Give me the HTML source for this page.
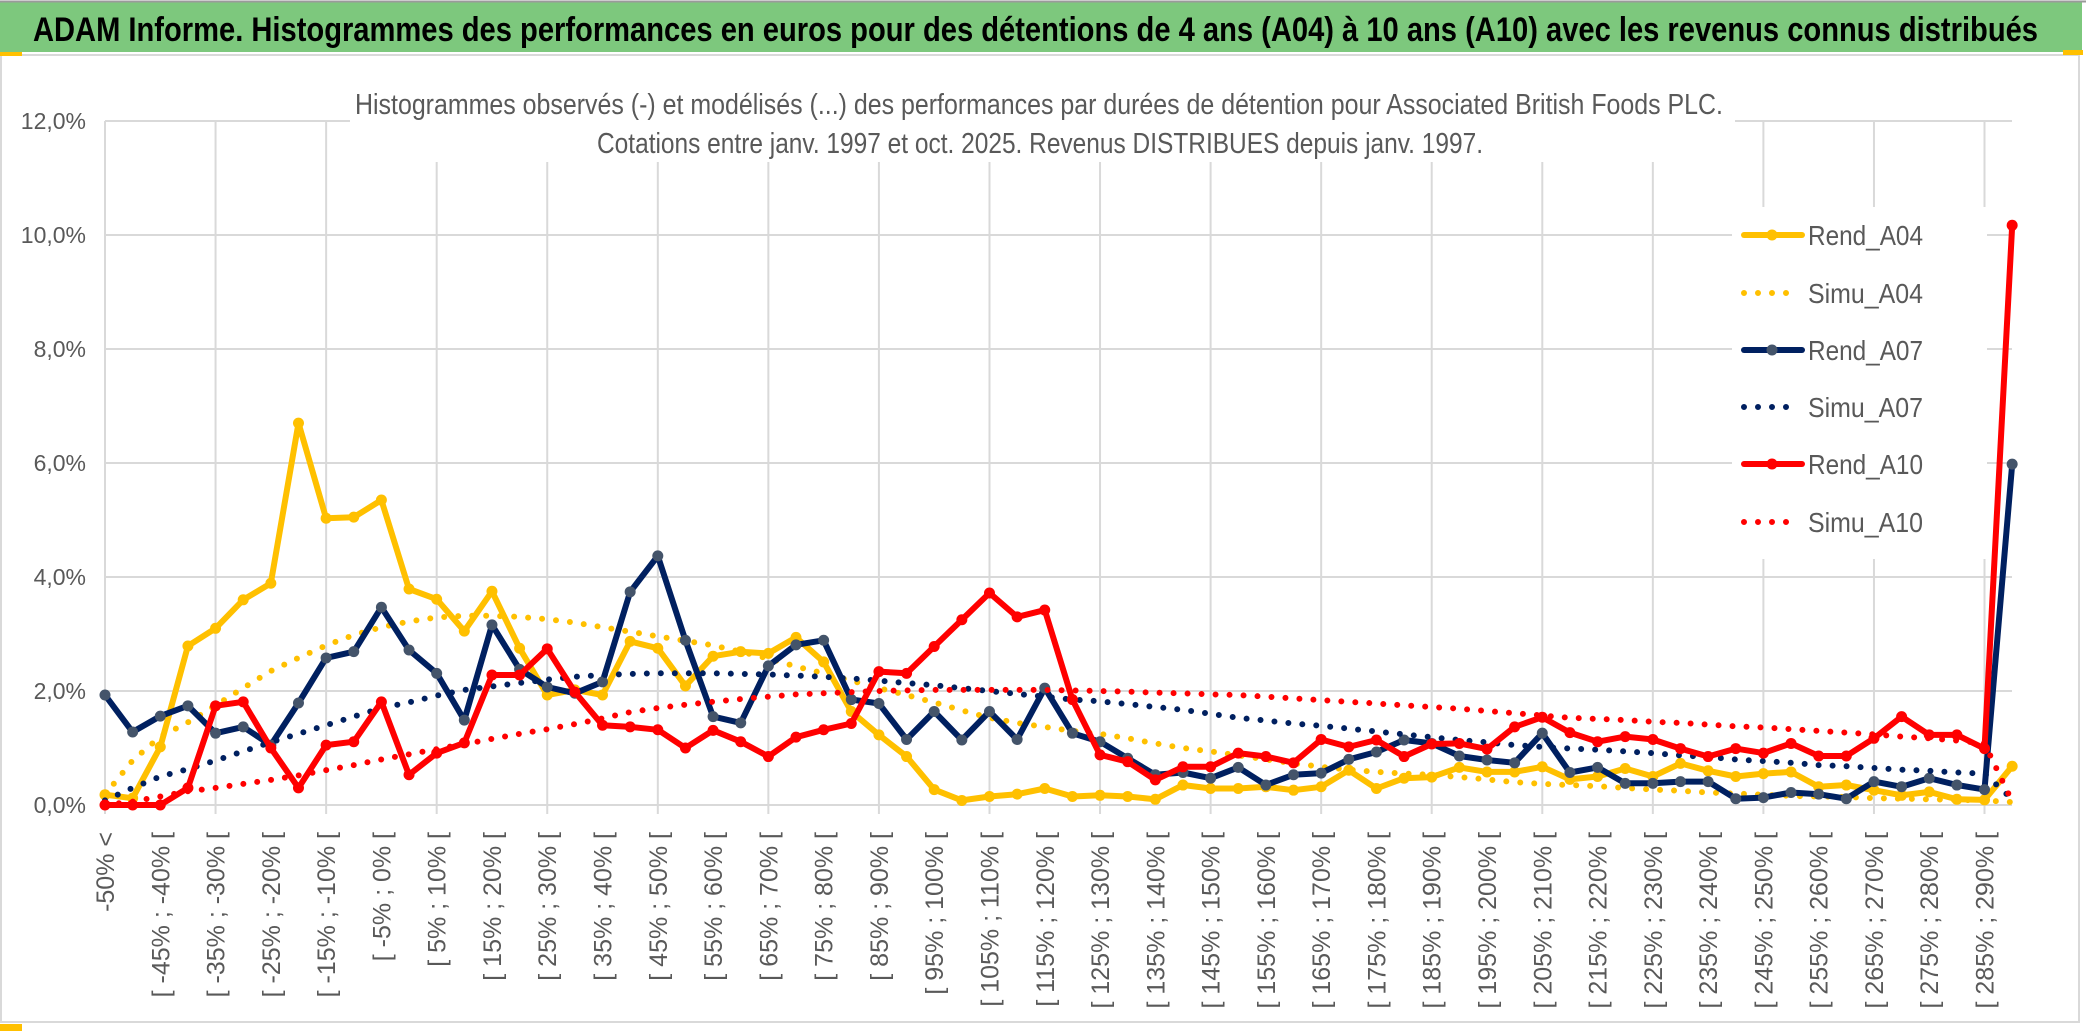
<!DOCTYPE html>
<html><head><meta charset="utf-8">
<style>
html,body{margin:0;padding:0;background:#fff;}
svg{display:block;}
text{font-family:"Liberation Sans Narrow","Liberation Sans",sans-serif;}
</style></head>
<body>
<svg id="chart" width="2086" height="1033" viewBox="0 0 2086 1033" xmlns="http://www.w3.org/2000/svg">
<rect x="0" y="0" width="2086" height="1033" fill="#fff"/>
<rect x="0" y="2" width="2082" height="50" fill="#7DC87D"/>
<line x1="0" y1="1.5" x2="2086" y2="1.5" stroke="#9a9a9a" stroke-width="2"/>
<text x="33" y="41" font-size="34" font-weight="bold" fill="#000" textLength="2005" lengthAdjust="spacingAndGlyphs">ADAM Informe. Histogrammes des performances en euros pour des détentions de 4 ans (A04) à 10 ans (A10) avec les revenus connus distribués</text>
<rect x="1" y="55" width="2078" height="967" fill="#fff" stroke="#d9d9d9" stroke-width="2"/>
<rect x="0" y="52" width="22" height="4" fill="#FFC000"/>
<rect x="0" y="1024" width="22" height="7" fill="#FFC000"/>
<rect x="2063" y="50" width="20" height="5" fill="#FFC000"/>
<g id="grid"></g>
<g id="yaxis"></g>
<g id="xaxis"></g>
<rect x="350" y="82" width="1385" height="80" fill="#fff"/>
<text x="355" y="114" font-size="29" fill="#595959" textLength="1368" lengthAdjust="spacingAndGlyphs">Histogrammes observés (-) et modélisés (...) des performances par durées de détention pour Associated British Foods PLC.</text>
<text x="597" y="153" font-size="29" fill="#595959" textLength="886" lengthAdjust="spacingAndGlyphs">Cotations entre janv. 1997 et oct. 2025. Revenus DISTRIBUES depuis janv. 1997.</text>
<rect x="1732" y="207" width="255" height="352" fill="#fff"/>
<g id="series"></g>
<g id="legend"></g>
</svg>
<script>
const categoriesLow = [];
for (let k = 1; k <= 34; k++) categoriesLow.push(10 * k - 55);
const yTicks = ["0,0%","2,0%","4,0%","6,0%","8,0%","10,0%","12,0%"];
const yTickValues = [0,2,4,6,8,10,12];
const rendA04 = [0.18,0.12,1.02,2.79,3.10,3.60,3.89,6.70,5.03,5.05,5.35,3.79,3.61,3.05,3.75,2.75,1.93,2.02,1.93,2.87,2.75,2.09,2.61,2.69,2.66,2.94,2.51,1.64,1.23,0.85,0.27,0.08,0.15,0.19,0.29,0.15,0.17,0.15,0.10,0.35,0.29,0.29,0.32,0.26,0.32,0.61,0.29,0.47,0.49,0.66,0.58,0.58,0.67,0.45,0.50,0.64,0.50,0.73,0.60,0.50,0.55,0.58,0.32,0.35,0.26,0.17,0.23,0.10,0.09,0.68];
const simuA04 = [0.18,0.78,1.20,1.45,1.75,2.05,2.35,2.58,2.80,2.98,3.12,3.22,3.29,3.32,3.32,3.30,3.26,3.20,3.12,3.04,2.96,2.88,2.80,2.69,2.57,2.43,2.31,2.18,2.05,1.93,1.80,1.66,1.53,1.44,1.37,1.30,1.25,1.17,1.08,1.00,0.94,0.87,0.80,0.73,0.67,0.62,0.58,0.55,0.53,0.49,0.45,0.40,0.37,0.35,0.33,0.30,0.27,0.25,0.22,0.20,0.18,0.16,0.15,0.14,0.12,0.11,0.10,0.09,0.08,0.05];
const rendA07 = [1.93,1.28,1.56,1.74,1.26,1.37,1.05,1.79,2.58,2.69,3.47,2.72,2.31,1.49,3.16,2.38,2.07,1.96,2.16,3.74,4.37,2.89,1.55,1.44,2.44,2.81,2.89,1.85,1.78,1.15,1.64,1.14,1.64,1.15,2.05,1.26,1.11,0.82,0.53,0.57,0.47,0.66,0.35,0.53,0.56,0.80,0.93,1.14,1.08,0.86,0.79,0.74,1.26,0.57,0.66,0.38,0.38,0.41,0.41,0.11,0.13,0.22,0.19,0.11,0.41,0.32,0.47,0.35,0.27,5.98];
const simuA07 = [0.08,0.30,0.50,0.63,0.78,0.94,1.10,1.25,1.40,1.55,1.70,1.80,1.92,2.02,2.08,2.14,2.20,2.25,2.28,2.30,2.31,2.31,2.31,2.30,2.29,2.27,2.25,2.22,2.18,2.14,2.10,2.05,2.00,1.95,1.90,1.85,1.82,1.77,1.72,1.67,1.60,1.53,1.48,1.43,1.39,1.34,1.29,1.24,1.19,1.14,1.10,1.05,1.02,0.99,0.97,0.94,0.91,0.87,0.84,0.80,0.77,0.74,0.70,0.68,0.65,0.62,0.60,0.57,0.55,0.10];
const rendA10 = [0,0,0,0.30,1.74,1.81,1.00,0.30,1.05,1.11,1.81,0.53,0.91,1.09,2.28,2.28,2.74,1.98,1.40,1.37,1.32,1.00,1.31,1.11,0.85,1.19,1.32,1.43,2.34,2.31,2.78,3.25,3.72,3.30,3.42,1.85,0.88,0.76,0.44,0.67,0.67,0.91,0.85,0.74,1.15,1.02,1.14,0.85,1.07,1.08,0.98,1.37,1.54,1.27,1.11,1.20,1.15,0.99,0.85,0.99,0.91,1.08,0.86,0.86,1.17,1.55,1.23,1.23,0.99,10.17];
const simuA10 = [0.00,0.06,0.15,0.24,0.30,0.37,0.44,0.52,0.61,0.70,0.80,0.89,0.98,1.07,1.16,1.25,1.33,1.42,1.52,1.63,1.70,1.76,1.81,1.86,1.90,1.94,1.96,1.98,2.00,2.01,2.02,2.02,2.02,2.02,2.02,2.01,2.00,1.99,1.97,1.96,1.94,1.93,1.90,1.87,1.84,1.81,1.78,1.75,1.72,1.69,1.65,1.61,1.57,1.53,1.51,1.49,1.46,1.44,1.41,1.38,1.36,1.33,1.30,1.27,1.24,1.20,1.17,1.13,1.08,0.06];
const seriesNames = ["Rend_A04","Simu_A04","Rend_A07","Simu_A07","Rend_A10","Simu_A10"];

const NS = "http://www.w3.org/2000/svg";
const X0 = 105, DX = 27.64, Y0 = 805, PY = 57;
function xOf(i){ return X0 + i * DX; }
function yOf(v){ return Y0 - v * PY; }
function mk(tag, attrs, parent){
  const e = document.createElementNS(NS, tag);
  for (const k in attrs) e.setAttribute(k, attrs[k]);
  parent.appendChild(e);
  return e;
}
const N = rendA04.length;
const grid = document.getElementById('grid');
yTickValues.forEach(function(v){
  const l = mk('line', {x1: X0, x2: 2012, y1: yOf(v), y2: yOf(v), stroke: '#d9d9d9', 'stroke-width': 2}, grid);
  
  
});
for (let i = 0; i < N; i += 4) {
  const l = mk('line', {x1: xOf(i), x2: xOf(i), y1: yOf(12), y2: Y0 + 9, stroke: '#d9d9d9', 'stroke-width': 2}, grid);
  
  
}
const yaxis = document.getElementById('yaxis');
yTicks.forEach(function(t, k){
  const e = mk('text', {x: 86, y: yOf(yTickValues[k]) + 8, 'font-size': 23, fill: '#595959', 'text-anchor': 'end'}, yaxis);
  e.textContent = t;
  
  
});
const xaxis = document.getElementById('xaxis');
for (let i = 0; i < N; i += 2) {
  let label;
  if (i === 0) label = "-50% <";
  else { const lo = categoriesLow[i/2 - 1]; label = "[ " + lo + "% ; " + (lo + 5) + "% ["; }
  const x = xOf(i) + 9, y = 832;
  const e = mk('text', {x: x, y: y, 'font-size': 25, fill: '#595959', 'text-anchor': 'end', 'font-family': '"DejaVu Sans", sans-serif', transform: 'rotate(-90 ' + x + ' ' + y + ')'}, xaxis);
  e.textContent = label;
  
  
}
const series = document.getElementById('series');
const defs = [
  {data: rendA04, color: '#FFC000', marker: '#FFC000', dotted: false, name: 'rend-a04-line'},
  {data: simuA04, color: '#FFC000', dotted: true, name: 'simu-a04-line'},
  {data: rendA07, color: '#002060', marker: '#44546A', dotted: false, name: 'rend-a07-line'},
  {data: simuA07, color: '#002060', dotted: true, name: 'simu-a07-line'},
  {data: rendA10, color: '#FF0000', marker: '#FF0000', dotted: false, name: 'rend-a10-line'},
  {data: simuA10, color: '#FF0000', dotted: true, name: 'simu-a10-line'}
];
defs.forEach(function(s){
  const pts = s.data.map(function(v, i){ return xOf(i).toFixed(1) + ',' + yOf(v).toFixed(1); }).join(' ');
  const attrs = {points: pts, fill: 'none', stroke: s.color, 'stroke-width': 6, 'stroke-linejoin': 'round', 'stroke-linecap': 'round'};
  if (s.dotted) { attrs['stroke-dasharray'] = '0 14'; }
  const pl = mk('polyline', attrs, series);
  
  
  if (!s.dotted) {
    s.data.forEach(function(v, i){
      const c = mk('circle', {cx: xOf(i), cy: yOf(v), r: 5.5, fill: s.marker}, series);
      
      
    });
  }
});
const legend = document.getElementById('legend');
const legendY = [235, 293, 350, 407, 464, 522];
seriesNames.forEach(function(n, k){
  const s = defs[k], y = legendY[k];
  const g = mk('g', {}, legend);
  
  
  const la = {x1: 1744, x2: 1802, y1: y, y2: y, stroke: s.color, 'stroke-width': 6, 'stroke-linecap': 'round'};
  if (s.dotted) { la['stroke-dasharray'] = '0 14'; la.x2 = 1800; }
  mk('line', la, g);
  if (!s.dotted) mk('circle', {cx: 1772, cy: y, r: 5.5, fill: s.marker}, g);
  const t = mk('text', {x: 1808, y: y + 10, 'font-size': 28, fill: '#595959', textLength: 115, lengthAdjust: 'spacingAndGlyphs'}, g);
  t.textContent = n;
});
</script>
</body></html>
